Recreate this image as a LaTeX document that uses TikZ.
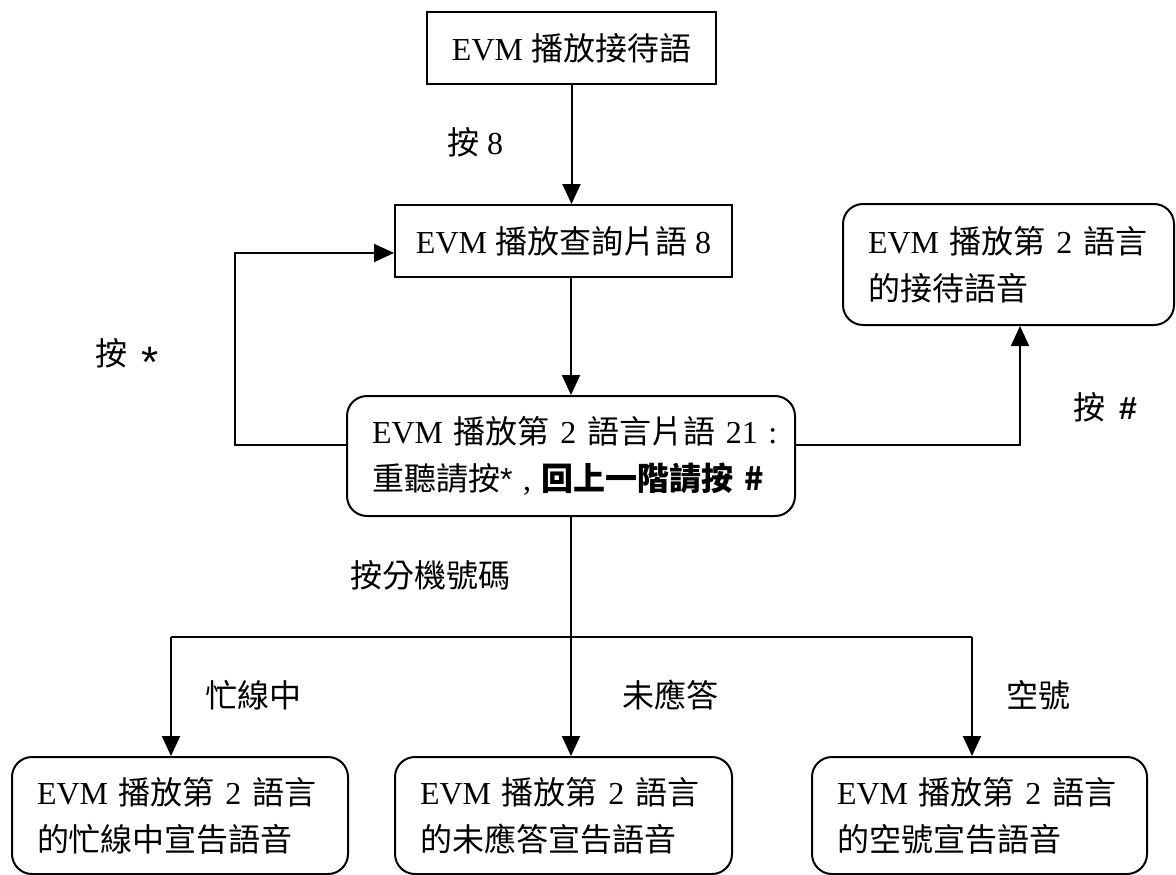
\documentclass[tikz,border=0pt]{standalone}
\usepackage{fontspec}
\setmainfont{Liberation Serif}
\newfontfamily\cjk{Noto Sans CJK TC}
\newfontfamily\sansf{Liberation Sans}
\usetikzlibrary{arrows.meta}
\begin{document}
\begin{tikzpicture}[x=1pt,y=-1pt,
  every node/.style={font=\fontsize{32}{47}\selectfont},
  sq/.style={draw, line width=2pt, align=center, inner sep=0pt},
  rbox/.style={draw, line width=2pt, rounded corners=20pt, align=left, inner xsep=25pt, inner ysep=0pt},
  conn/.style={line width=2pt},
  arr/.style={conn, -{Triangle[length=20pt,width=18pt]}},
  lbl/.style={inner sep=0pt}]
\useasboundingbox (0,0) rectangle (1176,875);

% boxes
\node[sq, minimum width=289pt, minimum height=72pt] (top) at (571.5,48) {EVM {\cjk 播放接待語}};
\node[sq, minimum width=337pt, minimum height=72pt] (q8) at (563.5,241) {EVM {\cjk 播放查詢片語} 8};
\node[rbox, text width=398pt, minimum height=120pt] (mid) at (571,456)
  {\mbox{EVM {\cjk 播放第} 2 {\cjk 語言片語} 21 :}\\\mbox{{\cjk 重聽請按}{\sansf *} , {\cjk\bfseries 回上一階請按 \#}}};
\node[rbox, text width=281pt, minimum height=121pt] (sec) at (1008.5,264.5)
  {\mbox{EVM {\cjk 播放第} 2 {\cjk 語言}}\\\mbox{\cjk 的接待語音}};
\node[rbox, text width=286pt, minimum height=117pt] (c1) at (180,815.5)
  {\mbox{EVM {\cjk 播放第} 2 {\cjk 語言}}\\\mbox{\cjk 的忙線中宣告語音}};
\node[rbox, text width=287pt, minimum height=117pt] (c2) at (563.5,815.5)
  {\mbox{EVM {\cjk 播放第} 2 {\cjk 語言}}\\\mbox{\cjk 的未應答宣告語音}};
\node[rbox, text width=285pt, minimum height=117pt] (c3) at (979.5,815.5)
  {\mbox{EVM {\cjk 播放第} 2 {\cjk 語言}}\\\mbox{\cjk 的空號宣告語音}};

% labels
\node[lbl] (l8) at (475,142) {{\cjk 按} 8};
\node[lbl] (ls) at (127,358) {{\cjk 按}\hspace{14pt}\raisebox{-12pt}{\sansf\fontsize{44}{44}\selectfont *}};
\node[lbl] (lh) at (1105,407) {{\cjk 按}\hspace{14pt}{\sansf\bfseries\#}};
\node[lbl] (lk) at (430,575) {\cjk 按分機號碼};
\node[lbl] (lb) at (253,695) {\cjk 忙線中};
\node[lbl] (ln) at (670,695) {\cjk 未應答};
\node[lbl] (le) at (1038,695) {\cjk 空號};

% helper coordinates
\coordinate (lp) at (235,253);
\coordinate (rp) at (1020,445);
\coordinate (jy) at (571,637);
\coordinate (jl) at (171,637);
\coordinate (jr) at (972,637);

% connectors
\draw[arr] (top.south) -- (top.south |- q8.north);
\draw[arr] (mid.north |- q8.south) -- (mid.north);
\draw[arr] (mid.west |- rp) -| (lp) -- (lp -| q8.west);
\draw[arr] (mid.east |- rp) -- (rp) -- (rp |- sec.south);
\draw[conn] (mid.south) -- (mid.south |- jy);
\draw[conn] (jl) -- (jr);
\draw[arr] (jl) -- (jl |- c1.north);
\draw[arr] (jy) -- (jy |- c2.north);
\draw[arr] (jr) -- (jr |- c3.north);
\end{tikzpicture}
\end{document}
